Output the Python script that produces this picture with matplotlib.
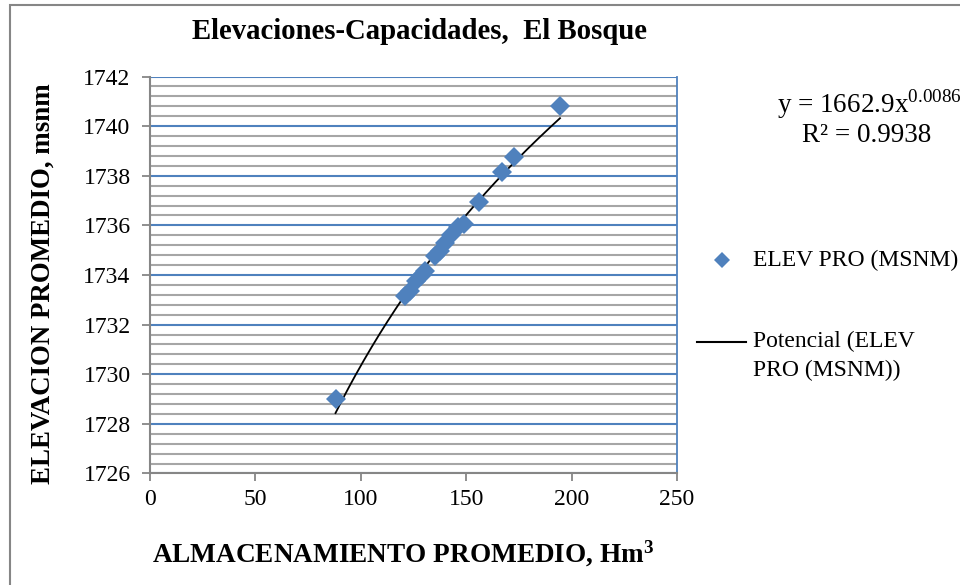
import numpy as np
import matplotlib
matplotlib.use('Agg')
import matplotlib.pyplot as plt
from matplotlib.ticker import MultipleLocator
from matplotlib.lines import Line2D

plt.rcParams['font.family'] = ['Liberation Serif', 'DejaVu Serif']
plt.rcParams['mathtext.fontset'] = 'custom'
plt.rcParams['mathtext.rm'] = 'Liberation Serif'
plt.rcParams['mathtext.bf'] = 'Liberation Serif:bold'

# datos
almacenamiento = [88.0, 121.0, 123.5, 126.0, 128.5, 130.5, 135.0, 137.5, 140.0, 143.0, 146.0, 149.0,
                  156.0, 167.0, 172.5, 194.5]
elevacion = [1729.0, 1733.15, 1733.35, 1733.75, 1733.95, 1734.15, 1734.75, 1734.95, 1735.3, 1735.6,
             1735.95, 1736.05, 1736.95, 1738.15, 1738.75, 1740.8]

titulo = 'Elevaciones-Capacidades,  El Bosque'
serie = 'ELEV PRO (MSNM)'
tendencia = ['Potencial (ELEV', 'PRO (MSNM))']

azul = '#4F81BD'
gris = '#A6A6A6'

fig = plt.figure(figsize=(9.6, 5.85), dpi=100)
ax = fig.add_axes([0.15625, 0.1906, 0.7052 - 0.15625, 0.8692 - 0.1906])

# ajuste potencial como el de Excel: ln(y) = ln(a) + b ln(x)
b, ln_a = np.polyfit(np.log(almacenamiento), np.log(elevacion), 1)
xs = np.linspace(min(almacenamiento), max(almacenamiento), 200)
ax.plot(xs, np.exp(ln_a) * xs ** b, color='black', lw=1.3, zorder=3)
ax.plot(almacenamiento, elevacion, 'D', color=azul, markersize=10.5, markeredgewidth=0, zorder=4)

ax.set_xlim(0, 250)
ax.set_ylim(1726, 1742)
ax.xaxis.set_major_locator(MultipleLocator(50))
ax.yaxis.set_major_locator(MultipleLocator(2))
ax.yaxis.set_minor_locator(MultipleLocator(0.4))
ax.grid(which='major', axis='y', color=azul, lw=1.5)
ax.grid(which='minor', axis='y', color=gris, lw=1.5)
ax.set_axisbelow(True)
ax.tick_params(which='minor', left=False)
ax.tick_params(which='major', direction='out', length=6, width=1.3, color='#868686',
               labelsize=17)
ax.tick_params(axis='x', pad=5)
ax.tick_params(axis='y', pad=8)
for s in ['left', 'bottom']:
    ax.spines[s].set_color('#868686')
    ax.spines[s].set_linewidth(1.5)
ax.spines['top'].set_visible(False)
ax.spines['right'].set_color(azul)
ax.spines['right'].set_linewidth(1.3)

fig.text(0.4365, 0.946, titulo, ha='center', va='center', fontsize=20.7, fontweight='bold')
fig.text(0.045, 0.5145, 'ELEVACION PROMEDIO, msnm', rotation=90, ha='center', va='center',
         fontsize=19.4, fontweight='bold')
fig.text(0.42, 0.053, 'ALMACENAMIENTO PROMEDIO, Hm$\\mathbf{^{3}}$', ha='center', va='center',
         fontsize=19.6, fontweight='bold')

fig.text(0.809, 0.822, 'y = 1662.9x$^{%.4f}$' % round(b, 4), ha='left', va='center', fontsize=19.5)
fig.text(0.835, 0.768, 'R² = 0.9938', ha='left', va='center', fontsize=19.5)

# leyenda a mano (como en Excel, la linea va con el primer renglon)
fig.add_artist(Line2D([0.752], [0.5556], marker='D', ls='none', color=azul, markersize=8,
                      markeredgewidth=0, transform=fig.transFigure))
fig.text(0.7844, 0.5556, serie, ha='left', va='center', fontsize=17)
fig.add_artist(Line2D([0.726, 0.777], [0.4154, 0.4154], color='black', lw=1.5,
                      transform=fig.transFigure))
fig.text(0.7844, 0.4171, tendencia[0], ha='left', va='center', fontsize=17)
fig.text(0.7844, 0.3675, tendencia[1], ha='left', va='center', fontsize=17)

# borde exterior del grafico
fig.patches.append(plt.Rectangle((0.0105, -0.05), 1.2, 1.041, transform=fig.transFigure,
                                 fill=False, edgecolor='#868686', lw=1.5))

fig.savefig('out.png', dpi=100)
